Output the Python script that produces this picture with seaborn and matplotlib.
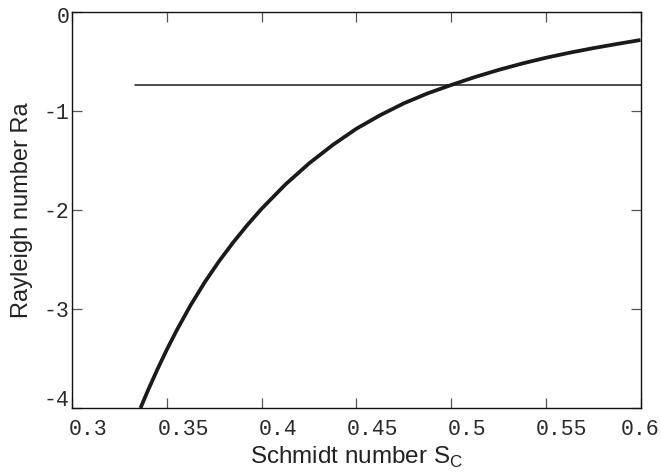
import matplotlib
matplotlib.use("Agg")
import matplotlib.pyplot as plt
import matplotlib.transforms as mtransforms
import pandas as pd
import seaborn as sns

# Neutral-stability curve: Rayleigh number against Schmidt number
schmidt = [0.336, 0.340, 0.345, 0.350, 0.355, 0.3625, 0.370, 0.3775,
           0.385, 0.3925, 0.400, 0.4125, 0.425, 0.4375, 0.450, 0.4625,
           0.475, 0.4875, 0.500, 0.5125, 0.525, 0.5375, 0.550, 0.5625,
           0.575, 0.5875, 0.600]
rayleigh = [-4.00, -3.82, -3.607, -3.407, -3.22, -2.961, -2.728, -2.518,
            -2.327, -2.151, -1.988, -1.744, -1.531, -1.345, -1.181, -1.045,
            -0.925, -0.825, -0.740, -0.660, -0.588, -0.523, -0.465, -0.414,
            -0.368, -0.326, -0.286]

# Reference level drawn as a horizontal line
ref_sc = [0.333, 0.600]
ref_ra = [-0.74, -0.74]

x_ticks = [0.3, 0.35, 0.4, 0.45, 0.5, 0.55, 0.6]
x_tick_labels = ["0.3", "0.35", "0.4", "0.45", "0.5", "0.55", "0.6"]
y_ticks = [0, -1, -2, -3, -4]
y_tick_labels = ["0", "-1", "-2", "-3", "-4"]

curve = pd.DataFrame({"Sc": schmidt, "Ra": rayleigh})
level = pd.DataFrame({"Sc": ref_sc, "Ra": ref_ra})

sns.set_style("ticks")
plt.rcParams["font.family"] = ["Liberation Sans", "DejaVu Sans"]
plt.rcParams["mathtext.fontset"] = "custom"
plt.rcParams["mathtext.rm"] = "Liberation Sans"

fig = plt.figure(figsize=(6.61, 4.72), dpi=100)
ax = fig.add_axes([0.1094, 0.1356, 0.969 - 0.1094, 0.9752 - 0.1356])

sns.lineplot(data=level, x="Sc", y="Ra", ax=ax, color="#1a1a1a", lw=1.1)
sns.lineplot(data=curve, x="Sc", y="Ra", ax=ax, color="#1a1a1a", lw=2.7,
             solid_capstyle="butt", solid_joinstyle="round")

ax.set_xlim(0.3, 0.6)
ax.set_ylim(-4, 0)
ax.set_xticks(x_ticks)
ax.set_xticklabels(x_tick_labels)
ax.set_yticks(y_ticks)
ax.set_yticklabels(y_tick_labels)

for lab in ax.get_xticklabels() + ax.get_yticklabels():
    lab.set_fontfamily("Liberation Mono")
    lab.set_fontsize(15.5)
    lab.set_color("#2a2a2a")

ax.tick_params(axis="both", which="major", direction="in", length=7,
               width=0.9, color="#555555", top=True, right=True)
ax.tick_params(axis="x", pad=8)
ax.tick_params(axis="y", pad=2)

# shift tick labels as laid out by the original plotting package
for lab in ax.get_xticklabels()[:-1]:
    lab.set_transform(lab.get_transform() +
                      mtransforms.ScaledTranslation(16 / 100, 0, fig.dpi_scale_trans))
ylabs = ax.get_yticklabels()
ylabs[0].set_transform(ylabs[0].get_transform() +
                       mtransforms.ScaledTranslation(0, -3 / 100, fig.dpi_scale_trans))
ylabs[-1].set_transform(ylabs[-1].get_transform() +
                        mtransforms.ScaledTranslation(0, 10 / 100, fig.dpi_scale_trans))

for side in ["top", "right", "bottom", "left"]:
    ax.spines[side].set_visible(True)
    ax.spines[side].set_linewidth(1.0)
    ax.spines[side].set_color("#111111")

ax.set_xlabel(r"Schmidt number S$_{\mathregular{C}}$", fontsize=17.5, color="#222222")
ax.set_ylabel("Rayleigh number Ra", fontsize=17, color="#222222")
ax.xaxis.set_label_coords(0.5, -0.092)
ax.yaxis.set_label_coords(-0.07, 0.5)

fig.savefig("out.png", dpi=100)
